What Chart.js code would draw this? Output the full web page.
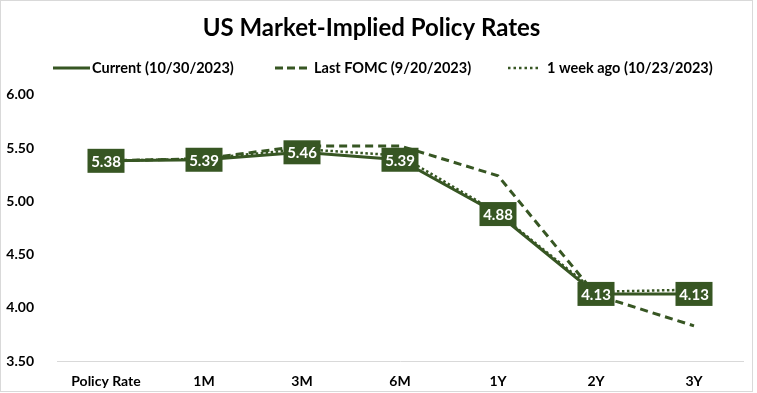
<!DOCTYPE html>
<html>
<head>
<meta charset="utf-8">
<script src="https://cdn.jsdelivr.net/npm/chart.js@4.4.0/dist/chart.umd.min.js"></script>
<style>
  html, body { margin: 0; padding: 0; background: #fff; }
  #wrap { position: relative; width: 757px; height: 393px; }
</style>
</head>
<body>
<div id="wrap"><canvas id="chart"></canvas></div>
<script>
// tenors along the curve
const categories = ['Policy Rate', '1M', '3M', '6M', '1Y', '2Y', '3Y'];
const current = [5.38, 5.39, 5.46, 5.39, 4.88, 4.13, 4.13];
const lastFomc = [5.38, 5.40, 5.52, 5.52, 5.24, 4.12, 3.83];
const weekAgo = [5.38, 5.40, 5.49, 5.43, 4.89, 4.15, 4.17];
const yTicks = [3.5, 4.0, 4.5, 5.0, 5.5, 6.0];

const green = '#375623';
const fontFamily = 'Lato, "Open Sans", sans-serif';

// Excel-style value boxes on the current curve
const boxLabels = {
  id: 'boxLabels',
  afterDatasetsDraw(chart) {
    const ctx = chart.ctx;
    const meta = chart.getDatasetMeta(0);
    const vals = chart.data.datasets[0].data;
    ctx.save();
    ctx.font = 'bold 15px ' + fontFamily;
    ctx.textAlign = 'center';
    ctx.textBaseline = 'middle';
    meta.data.forEach((pt, i) => {
      const w = 37, h = 24;
      ctx.fillStyle = green;
      ctx.fillRect(pt.x - w / 2, pt.y - h / 2, w, h);
      ctx.fillStyle = '#fff';
      ctx.fillText(vals[i].toFixed(2), pt.x, pt.y + 1);
    });
    ctx.restore();
  }
};

// legend row drawn by hand so the sample lines keep their dash patterns
const lineLegend = {
  id: 'lineLegend',
  afterDraw(chart) {
    const ctx = chart.ctx;
    const y = 68;
    const slots = [[53, 90, 92], [275, 307, 314], [508, 541, 547]];
    ctx.save();
    ctx.font = 'bold 14.5px ' + fontFamily;
    ctx.textBaseline = 'middle';
    chart.data.datasets.forEach((ds, i) => {
      const [x0, x1, tx] = slots[i];
      ctx.strokeStyle = ds.borderColor;
      ctx.lineWidth = ds.borderWidth;
      ctx.setLineDash(ds.legendDash || []);
      ctx.beginPath();
      ctx.moveTo(x0, y);
      ctx.lineTo(x1, y);
      ctx.stroke();
      ctx.fillStyle = '#000';
      ctx.fillText(ds.label, tx, y);
    });
    ctx.setLineDash([]);
    ctx.strokeStyle = '#d9d9d9';
    ctx.lineWidth = 1;
    ctx.strokeRect(0.5, 0.5, 752, 391);
    ctx.restore();
  }
};

new Chart(document.getElementById('chart'), {
  type: 'line',
  data: {
    labels: categories,
    datasets: [
      { label: 'Current (10/30/2023)', data: current, borderColor: green, backgroundColor: green,
        borderWidth: 3, pointRadius: 0, order: 0 },
      { label: 'Last FOMC (9/20/2023)', data: lastFomc, borderColor: green, backgroundColor: green,
        borderWidth: 3, borderDash: [8, 5], legendDash: [8, 4], pointRadius: 0, order: 1 },
      { label: '1 week ago (10/23/2023)', data: weekAgo, borderColor: green, backgroundColor: green,
        borderWidth: 2.5, borderDash: [2.5, 2.5], legendDash: [2.5, 3], pointRadius: 0, order: 2 }
    ]
  },
  options: {
    responsive: true,
    maintainAspectRatio: false,
    animation: false,
    layout: { padding: { left: 0, right: 14, top: 0, bottom: 0 } },
    plugins: {
      title: {
        display: true,
        text: 'US Market-Implied Policy Rates',
        color: '#000',
        font: { family: fontFamily, size: 24, weight: 'bold' },
        padding: { top: 14, bottom: 52 }
      },
      legend: { display: false },
      tooltip: { enabled: false }
    },
    scales: {
      x: {
        offset: true,
        grid: { display: true, drawOnChartArea: false, drawTicks: false },
        border: { display: true, color: '#d9d9d9' },
        ticks: { color: '#000', font: { family: fontFamily, size: 14, weight: 'bold' }, padding: 12, maxRotation: 0 },
        afterFit: scale => { scale.height = 32; }
      },
      y: {
        min: 3.5,
        max: 6.0,
        grid: { display: false },
        border: { display: false },
        afterBuildTicks: scale => { scale.ticks = yTicks.map(v => ({ value: v })); },
        afterFit: scale => { scale.width = 57; },
        ticks: {
          color: '#000',
          font: { family: fontFamily, size: 14, weight: 'bold' },
          padding: 15,
          callback: v => Number(v).toFixed(2)
        }
      }
    }
  },
  plugins: [boxLabels, lineLegend]
});
</script>
</body>
</html>
